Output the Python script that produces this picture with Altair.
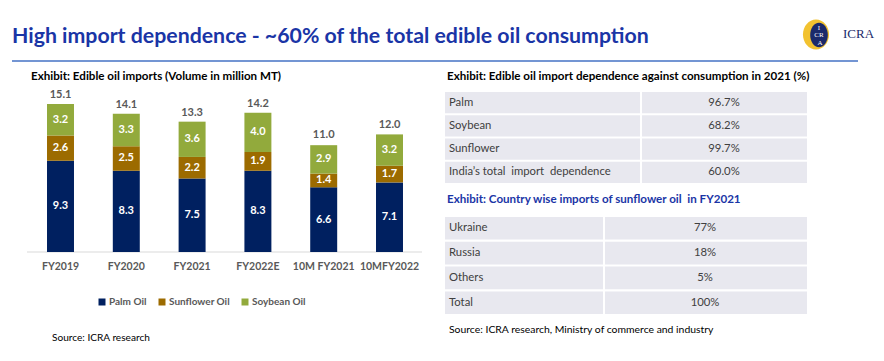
import altair as alt
import pandas as pd

# ---------------- data ----------------
periods = ["FY2019", "FY2020", "FY2021", "FY2022E", "10M FY2021", "10MFY2022"]
palm = [9.3, 8.3, 7.5, 8.3, 6.6, 7.1]
sunflower = [2.6, 2.5, 2.2, 1.9, 1.4, 1.7]
soybean = [3.2, 3.3, 3.6, 4.0, 2.9, 3.2]
totals = [15.1, 14.1, 13.3, 14.2, 11.0, 12.0]
series = ["Palm Oil", "Sunflower Oil", "Soybean Oil"]
series_colors = ["#002060", "#9C6B00", "#92AA3C"]

dep_labels = ["Palm", "Soybean", "Sunflower", "India\u2019s total\u00a0 import\u00a0 dependence"]
dep_values = ["96.7%", "68.2%", "99.7%", "60.0%"]
country_labels = ["Ukraine", "Russia", "Others", "Total"]
country_values = ["77%", "18%", "5%", "100%"]

FONT = "Lato"
CELL = "#E8E8EF"
BLUE = "#1A35A6"

rows = []
for i, p in enumerate(periods):
    for k, (s, vals) in enumerate(zip(series, [palm, sunflower, soybean])):
        rows.append({"period": p, "series": s, "value": vals[i], "order": k})
bar_df = pd.DataFrame(rows)
tot_df = pd.DataFrame({"period": periods, "total": totals})
dummy = pd.DataFrame({"k": [0]})

# ---------------- bar chart ----------------
x_scale = alt.Scale(type="band", domain=periods, range=[19.6, 414.4],
                    paddingInner=0.59, paddingOuter=0.295)
y_scale = alt.Scale(domain=[0, 20], range=[244, 48], nice=False, zero=True)

def xenc():
    return alt.X("period:N", sort=periods, axis=None, scale=x_scale, bandPosition=0.5)

bars = alt.Chart(bar_df).mark_bar().encode(
    x=alt.X("period:N", sort=periods, axis=None, scale=x_scale),
    y=alt.Y("value:Q", stack="zero", scale=y_scale, axis=None),
    color=alt.Color("series:N", sort=series,
                    scale=alt.Scale(domain=series, range=series_colors),
                    legend=alt.Legend(orient="none", legendX=89, legendY=289,
                                      direction="horizontal", title=None,
                                      symbolType="square", symbolSize=49,
                                      symbolStrokeWidth=0, labelFont=FONT,
                                      labelFontSize=10, labelFontWeight="bold",
                                      labelColor="#595959", labelOffset=2,
                                      columnPadding=10, padding=0)),
    order=alt.Order("order:Q"),
)

seg_text = alt.Chart(bar_df).transform_window(
    cum="sum(value)", groupby=["period"], sort=[alt.SortField("order")], frame=[None, 0]
).transform_calculate(
    mid="datum.cum - datum.value / 2"
).mark_text(color="white", font=FONT, fontSize=11, fontWeight="bold", baseline="middle").encode(
    x=xenc(),
    y=alt.Y("mid:Q", scale=y_scale, axis=None),
    text=alt.Text("value:Q", format=".1f"),
)

tot_text = alt.Chart(tot_df).mark_text(color="#595959", font=FONT, fontSize=11,
                                        fontWeight="bold", baseline="middle", dy=-9).encode(
    x=xenc(),
    y=alt.Y("total:Q", scale=y_scale, axis=None),
    text=alt.Text("total:Q", format=".1f"),
)

period_text = alt.Chart(tot_df).mark_text(color="#595959", font=FONT, fontSize=10.5,
                                           fontWeight="bold", baseline="middle").encode(
    x=xenc(),
    y=alt.value(259),
    text="period:N",
)

baseline_rule = alt.Chart(dummy).mark_rule(color="#D9D9D9", strokeWidth=1).encode(
    x=alt.value(19), x2=alt.value(414), y=alt.value(244)
)

# ---------------- tables ----------------
def table(labels, values, top, bottom, left, divider, right, value_center):
    df = pd.DataFrame({"label": labels, "value": values})
    sc = alt.Scale(type="band", domain=labels, range=[top, bottom],
                   paddingInner=0.09, paddingOuter=0)
    y_band = alt.Y("label:N", sort=labels, axis=None, scale=sc)
    y_mid = alt.Y("label:N", sort=labels, axis=None, scale=sc, bandPosition=0.5)
    base = alt.Chart(df)
    c1 = base.mark_rect(color=CELL).encode(y=y_band, x=alt.value(left), x2=alt.value(divider - 1))
    c2 = base.mark_rect(color=CELL).encode(y=y_band, x=alt.value(divider + 1), x2=alt.value(right))
    t1 = base.mark_text(align="left", baseline="middle", font=FONT, fontSize=11.3,
                        color="#404040").encode(y=y_mid, x=alt.value(left + 4), text="label:N")
    t2 = base.mark_text(align="center", baseline="middle", font=FONT, fontSize=11.3,
                        color="#404040").encode(y=y_mid, x=alt.value(value_center), text="value:N")
    return [c1, c2, t1, t2]

table1 = table(dep_labels, dep_values, 84, 175, 437, 633, 799, 716)
table2 = table(country_labels, country_values, 209, 306, 437, 596, 799, 697)

# ---------------- static text ----------------
def label(txt, x, y, size, weight="normal", color="black", align="left", font=FONT):
    return alt.Chart(dummy).mark_text(text=txt, align=align, baseline="middle", font=font,
                                      fontSize=size, fontWeight=weight, color=color).encode(
        x=alt.value(x), y=alt.value(y))

title = label("High import dependence - ~60% of the total edible oil consumption", 4, 29, 21.3, "bold", BLUE)
top_rule = alt.Chart(dummy).mark_rule(color="#4472C4", strokeWidth=1.5).encode(
    x=alt.value(4), x2=alt.value(850), y=alt.value(53))
sub1 = label("Exhibit: Edible oil imports (Volume in million MT)", 23, 69, 11.6, "bold")
sub2 = label("Exhibit: Edible oil import dependence against consumption in 2021 (%)", 439, 69, 11.6, "bold")
sub3 = label("Exhibit: Country wise imports of sunflower oil\u00a0 in FY2021", 439, 192, 11.6, "bold", BLUE)
src1 = label("Source: ICRA research", 44, 330, 10.1)
src2 = label("Source: ICRA research, Ministry of commerce and industry", 441, 322, 10.4)

ellipse = "M0,-1 A0.87,1 0 1,1 0,1 A0.87,1 0 1,1 0,-1 Z"
logo_outer = alt.Chart(dummy).mark_point(shape=ellipse, filled=True, size=900, color="#F2C230",
                                         opacity=1).encode(x=alt.value(808), y=alt.value(26.5))
logo_inner = alt.Chart(dummy).mark_point(shape="M0,-1 A0.72,1 0 1,1 0,1 A0.72,1 0 1,1 0,-1 Z",
                                         filled=True, size=600, color="#1B2A6B",
                                         opacity=1).encode(x=alt.value(811), y=alt.value(27))
logo_i = label("I", 811, 19.5, 7, "normal", "white", "center", "Liberation Serif")
logo_cr = label("CR", 811, 27, 7, "normal", "white", "center", "Liberation Serif")
logo_a = label("A", 812, 34.5, 7, "normal", "white", "center", "Liberation Serif")
logo_txt = label("ICRA", 835, 26, 13, "normal", "#1B2A6B", "left", "Liberation Serif")

layers = [title, top_rule, logo_outer, logo_inner, logo_i, logo_cr, logo_a, logo_txt,
          sub1, sub2, sub3, src1, src2,
          baseline_rule, bars, seg_text, tot_text, period_text] + table1 + table2

chart = alt.layer(*layers).resolve_scale(
    x="independent", y="independent", color="independent"
).properties(
    width=868, height=345, padding=0, autosize=alt.AutoSizeParams(type="none")
).configure_view(stroke=None)

chart.save("out.html", embed_options={"renderer": "svg", "actions": False})
